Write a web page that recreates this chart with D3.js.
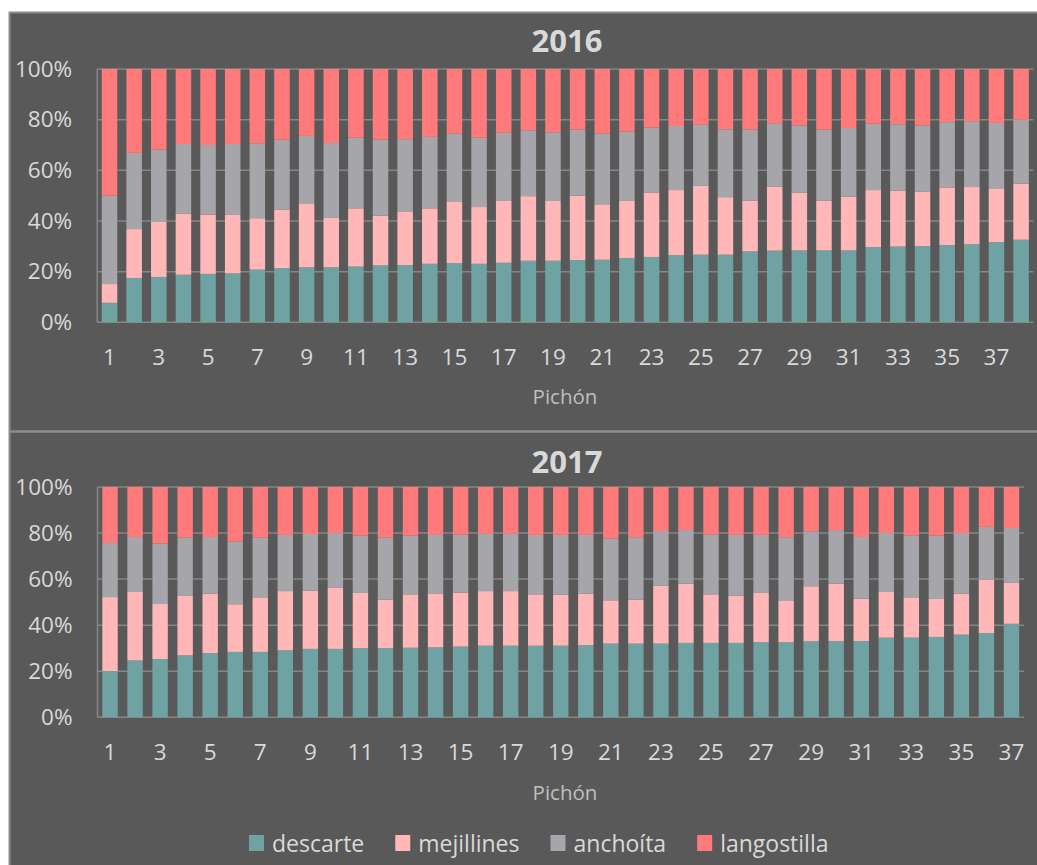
<!DOCTYPE html>
<html>
<head>
<meta charset="utf-8">
<script src="https://cdn.jsdelivr.net/npm/d3@7"></script>
<style>
  body { margin: 0; background: #fff; }
  svg { display: block; }
</style>
</head>
<body>
<script>
// ---- data (percent of each bar) ----
const series = ['descarte', 'mejillines', 'anchoíta', 'langostilla']
const colors = ['#6FA2A3', '#FFB7B7', '#A6A5AA', '#FF7B7B']
const yTicks = [0, 20, 40, 60, 80, 100]

const cats2016 = d3.range(1, 39)
const descarte2016 = [7.7,17.5,17.9,18.8,19.1,19.3,20.8,21.4,21.7,21.7,22.0,22.5,22.6,23.1,23.4,23.1,23.5,24.3,24.3,24.6,24.7,25.4,25.8,26.5,26.7,26.7,28.0,28.3,28.4,28.4,28.4,29.7,29.9,30.1,30.5,30.8,31.7,32.6]
const mejillines2016 = [7.4,19.3,21.7,24.0,23.4,23.1,20.3,23.1,25.0,19.5,23.0,19.6,21.2,21.9,24.1,22.4,24.4,25.5,23.6,25.4,21.9,22.5,25.3,25.7,27.3,22.7,20.0,25.3,22.7,19.6,21.2,22.5,22.1,21.4,22.7,22.6,21.2,22.1]
const anchoita2016 = [34.9,30.1,28.6,27.6,27.5,28.0,29.6,27.6,26.9,29.6,27.9,30.0,28.5,28.2,27.0,27.4,26.9,26.0,27.1,26.1,27.9,27.4,25.8,25.3,24.0,26.8,28.1,25.0,26.6,28.1,27.1,26.2,26.2,26.2,25.8,26.0,25.8,25.3]
const langostilla2016 = [50.0,33.1,31.8,29.6,30.0,29.6,29.3,27.9,26.4,29.2,27.1,27.9,27.7,26.8,25.5,27.1,25.2,24.2,25.0,23.9,25.5,24.7,23.1,22.5,22.0,23.8,23.9,21.4,22.3,23.9,23.3,21.6,21.8,22.3,21.0,20.6,21.3,20.0]

const cats2017 = d3.range(1, 38)
const descarte2017 = [20.1,24.7,25.3,26.9,27.9,28.4,28.4,29.1,29.7,29.7,30.0,30.0,30.2,30.4,30.7,31.1,31.1,31.1,31.1,31.4,32.0,32.0,32.0,32.3,32.3,32.3,32.6,32.6,33.0,33.1,33.1,34.6,34.6,34.9,35.9,36.6,40.6]
const mejillines2017 = [32.1,29.7,23.9,25.8,25.8,20.7,23.7,25.7,25.3,26.7,24.0,21.1,23.2,23.4,23.4,23.7,23.7,22.3,22.1,22.3,18.8,19.1,25.1,25.7,21.1,20.5,21.4,17.9,23.9,24.9,18.4,19.8,17.2,16.5,17.8,23.1,17.8]
const anchoita2017 = [23.5,23.9,26.3,25.3,24.6,27.2,25.9,24.4,24.6,23.6,24.9,26.9,25.5,25.4,25.2,24.9,24.9,25.8,26.0,25.5,26.9,27.1,23.8,23.3,25.9,26.4,25.2,27.7,23.9,23.3,26.8,25.6,27.2,27.5,26.3,23.0,23.8]
const langostilla2017 = [24.3,21.7,24.5,22.0,21.7,23.7,22.0,20.8,20.4,20.0,21.1,22.0,21.1,20.8,20.7,20.3,20.3,20.8,20.8,20.8,22.3,21.8,19.1,18.7,20.7,20.8,20.8,21.8,19.2,18.7,21.7,20.0,21.0,21.1,20.0,17.3,17.8]

const W = 1037, H = 865
const font = '"Open Sans", sans-serif'
const textColor = '#D9D9D9'
const lineColor = '#868686'

const svg = d3.select('body').append('svg').attr('width', W).attr('height', H)

// panel background and borders
svg.append('rect').attr('x', 9).attr('y', 12).attr('width', W - 9).attr('height', H - 12).attr('fill', '#595959')
svg.append('line').attr('x1', 9).attr('x2', W).attr('y1', 12.5).attr('y2', 12.5).attr('stroke', '#8C8C8C').attr('stroke-width', 2)
svg.append('line').attr('x1', 9.5).attr('x2', 9.5).attr('y1', 12).attr('y2', H).attr('stroke', '#8C8C8C').attr('stroke-width', 2)
svg.append('line').attr('x1', 9).attr('x2', W).attr('y1', 431.5).attr('y2', 431.5).attr('stroke', '#8C8C8C').attr('stroke-width', 2.5)

function rows(cats, a, b, c, d) {
  return cats.map((cat, i) => ({ cat, descarte: a[i], mejillines: b[i], 'anchoíta': c[i], langostilla: d[i] }))
}

function drawPanel(opt) {
  const g = svg.append('g')
  const x = d3.scaleBand().domain(opt.cats).range([opt.left, opt.right])
    .paddingInner(opt.pad).paddingOuter(opt.pad / 2)
  const y = d3.scaleLinear().domain([0, 100]).range([opt.bottom, opt.top])

  // gridlines
  g.append('g').selectAll('line').data(yTicks).join('line')
    .attr('x1', opt.left).attr('x2', opt.right)
    .attr('y1', d => y(d)).attr('y2', d => y(d))
    .attr('stroke', lineColor).attr('stroke-width', 1.5)
  g.append('line').attr('x1', opt.left).attr('x2', opt.left)
    .attr('y1', y(100)).attr('y2', y(0)).attr('stroke', lineColor).attr('stroke-width', 1.5)

  const stacked = d3.stack().keys(series)(opt.data)
  g.append('g').selectAll('g').data(stacked).join('g')
    .attr('fill', (d, i) => colors[i])
    .selectAll('rect').data(d => d).join('rect')
    .attr('x', d => x(d.data.cat))
    .attr('width', x.bandwidth())
    .attr('y', d => y(d[1]))
    .attr('height', d => y(d[0]) - y(d[1]))

  // y axis
  const ya = g.append('g').attr('transform', `translate(${opt.left},0)`)
    .call(d3.axisLeft(y).tickValues(yTicks).tickFormat(d => d + '%').tickSize(0).tickPadding(25))
  ya.select('.domain').remove()
  ya.selectAll('text').attr('fill', textColor).attr('font-size', 22.5).attr('font-family', font)

  // x axis
  const xa = g.append('g').attr('transform', `translate(0,${opt.bottom})`)
    .call(d3.axisBottom(x).tickValues(opt.cats.filter(c => c % 2 === 1)).tickSize(0).tickPadding(27))
  xa.select('.domain').remove()
  xa.selectAll('text').attr('fill', textColor).attr('font-size', 22.5).attr('font-family', font)

  g.append('text').attr('x', 567).attr('y', opt.titleY).attr('text-anchor', 'middle')
    .attr('font-family', font).attr('font-weight', 'bold').attr('font-size', 31)
    .attr('fill', textColor).text(opt.title)

  g.append('text').attr('x', 565).attr('y', opt.axisTitleY).attr('text-anchor', 'middle')
    .attr('font-family', font).attr('font-size', 20.5).attr('fill', '#BFBFBF').text('Pichón')
}

drawPanel({
  title: '2016', cats: cats2016,
  data: rows(cats2016, descarte2016, mejillines2016, anchoita2016, langostilla2016),
  left: 97.2, right: 1033.4, top: 69, bottom: 322.3, pad: 0.37,
  titleY: 52, axisTitleY: 404
})

drawPanel({
  title: '2017', cats: cats2017,
  data: rows(cats2017, descarte2017, mejillines2017, anchoita2017, langostilla2017),
  left: 97.5, right: 1024, top: 487, bottom: 717.3, pad: 0.385,
  titleY: 473, axisTitleY: 800
})

// legend
const legend = svg.append('g')
let lx = 249
series.forEach((s, i) => {
  legend.append('rect').attr('x', lx).attr('y', 835).attr('width', 15).attr('height', 16).attr('fill', colors[i])
  const t = legend.append('text').attr('x', lx + 23).attr('y', 851.5)
    .attr('font-family', font).attr('font-size', 23).attr('fill', textColor).text(s)
  lx += 23 + t.node().getComputedTextLength() + 31
})
</script>
</body>
</html>
